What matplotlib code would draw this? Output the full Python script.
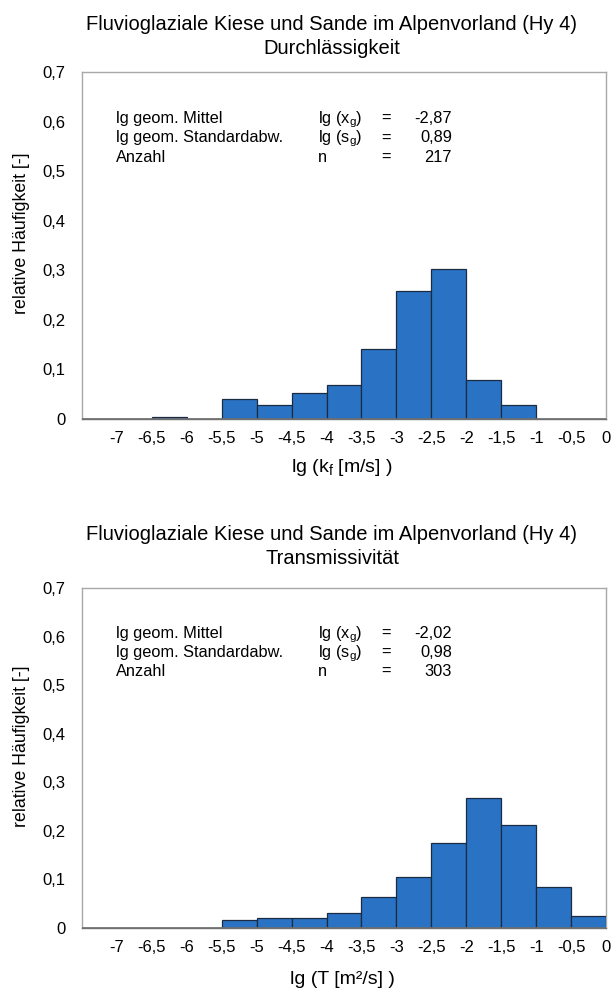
import matplotlib
matplotlib.use('Agg')
import matplotlib.pyplot as plt

plt.rcParams['font.family'] = ['Liberation Sans', 'DejaVu Sans']
plt.rcParams['mathtext.fontset'] = 'custom'
plt.rcParams['mathtext.rm'] = 'Liberation Sans'
plt.rcParams['mathtext.it'] = 'Liberation Sans'

# bin left edges (lg values), width 0.5
bin_left = [-7.5, -7.0, -6.5, -6.0, -5.5, -5.0, -4.5, -4.0, -3.5, -3.0, -2.5, -2.0, -1.5, -1.0, -0.5]
# relative frequency, Durchlaessigkeit (kf)
freq_kf = [0, 0, 0.004, 0, 0.040, 0.028, 0.052, 0.069, 0.141, 0.259, 0.303, 0.079, 0.028, 0, 0]
# relative frequency, Transmissivitaet (T)
freq_T = [0, 0, 0, 0, 0.016, 0.021, 0.021, 0.031, 0.064, 0.105, 0.174, 0.267, 0.212, 0.085, 0.025]

xticks = [-7, -6.5, -6, -5.5, -5, -4.5, -4, -3.5, -3, -2.5, -2, -1.5, -1, -0.5, 0]
xticklabels = ['-7', '-6,5', '-6', '-5,5', '-5', '-4,5', '-4', '-3,5', '-3', '-2,5', '-2', '-1,5', '-1', '-0,5', '0']
yticks = [0, 0.1, 0.2, 0.3, 0.4, 0.5, 0.6, 0.7]
yticklabels = ['0', '0,1', '0,2', '0,3', '0,4', '0,5', '0,6', '0,7']

title1 = 'Fluvioglaziale Kiese und Sande im Alpenvorland (Hy 4)'
subtitles = ['Durchlässigkeit', 'Transmissivität']
xlabels = ['lg (k$_\\mathrm{f}$ [m/s] )', 'lg (T [m²/s] )']
stat_names = ['lg geom. Mittel', 'lg geom. Standardabw.', 'Anzahl']
stat_syms = ['lg (x$_\\mathrm{g}$)', 'lg (s$_\\mathrm{g}$)', 'n']
stats_kf = ['-2,87', '0,89', '217']
stats_T = ['-2,02', '0,98', '303']

W, H = 615, 998
fig = plt.figure(figsize=(W / 100, H / 100), dpi=100)

bar_color = '#2a72c4'
edge_color = '#1a2b42'
frame_color = '#a8a8a8'

# axes boxes in pixel coords: left, top, right, bottom
boxes = [(82, 72, 606, 419), (82, 588, 606, 928)]
title_y = [(24, 48), (535, 558)]
xlabel_y = [468, 979]

for i, freq in enumerate([freq_kf, freq_T]):
    l, t, r, b = boxes[i]
    ax = fig.add_axes([l / W, 1 - b / H, (r - l) / W, (b - t) / H])
    ax.bar(bin_left, freq, width=0.5, align='edge', color=bar_color,
           edgecolor=edge_color, linewidth=0.9, zorder=3)
    ax.set_xlim(-7.5, 0)
    ax.set_ylim(0, 0.7)
    ax.set_xticks(xticks)
    ax.set_xticklabels(xticklabels)
    ax.set_yticks(yticks)
    ax.set_yticklabels(yticklabels)
    ax.tick_params(length=0, labelsize=12, pad=9)
    ax.tick_params(axis='y', pad=12)
    for s in ax.spines.values():
        s.set_color(frame_color)
        s.set_linewidth(1.0)
    ax.spines['bottom'].set_color('#707070')
    ax.axhline(0, color='#707070', linewidth=1.2, zorder=4)

    stats = stats_kf if i == 0 else stats_T
    tr = ax.get_yaxis_transform()
    for k in range(3):
        yy = 0.597 - k * 0.039
        ax.text(0.065, yy, stat_names[k], transform=tr, fontsize=11.8, va='baseline', ha='left')
        ax.text(0.450, yy, stat_syms[k], transform=tr, fontsize=11.8, va='baseline', ha='left')
        ax.text(0.580, yy, '=', transform=tr, fontsize=11.8, va='baseline', ha='center')
        ax.text(0.706, yy, stats[k], transform=tr, fontsize=11.8, va='baseline', ha='right')

    fig.text(332 / W, 1 - title_y[i][0] / H, title1, fontsize=14.5, ha='center', va='center')
    fig.text(332 / W, 1 - title_y[i][1] / H, subtitles[i], fontsize=14.5, ha='center', va='center')
    fig.text(342 / W, 1 - xlabel_y[i] / H, xlabels[i], fontsize=14, ha='center', va='center')
    fig.text(22 / W, 1 - (t + b - 24) / 2 / H, 'relative Häufigkeit [-]', fontsize=12.8,
             rotation=90, ha='center', va='center')

fig.savefig('out.png', dpi=100, facecolor='white')
